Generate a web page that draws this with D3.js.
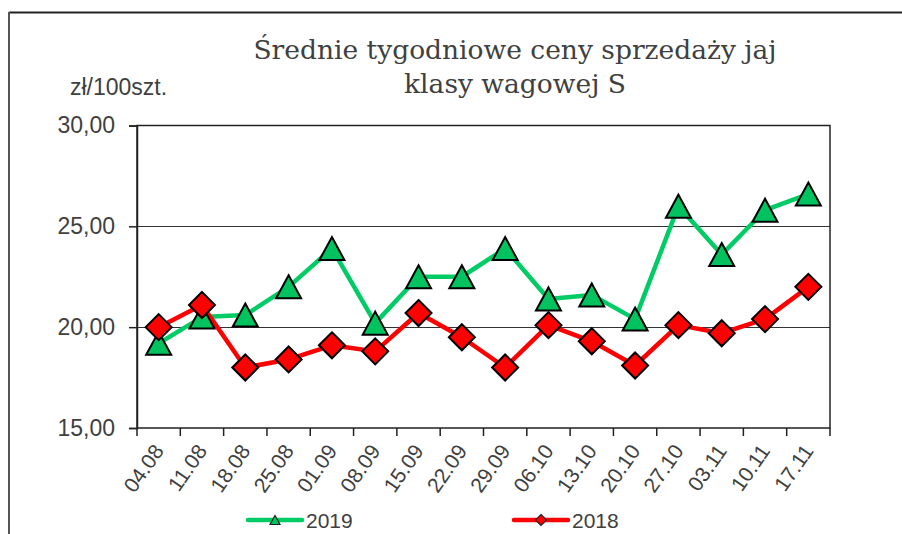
<!DOCTYPE html>
<meta charset="utf-8">
<style>
body { margin: 0; background: #fff; }
.title { font-family: "DejaVu Serif", serif; fill: #404040; }
.lab { font-family: "Liberation Sans", Arial, sans-serif; fill: #404040; }
.axis path, .axis line { stroke: #222; }
</style>
<body>
<div id="main"></div>
<script src="https://d3js.org/d3.v7.min.js"></script>
<script>
// weeks (x categories)
var weeks = ["04.08", "11.08", "18.08", "25.08", "01.09", "08.09", "15.09", "22.09",
	"29.09", "06.10", "13.10", "20.10", "27.10", "03.11", "10.11", "17.11"];
// prices zł/100szt.
var s2019 = [19.2, 20.5, 20.6, 22.0, 23.9, 20.2, 22.5, 22.5, 23.9, 21.4, 21.6, 20.4, 26.0, 23.6, 25.8, 26.6];
var s2018 = [20.0, 21.1, 18.0, 18.4, 19.1, 18.8, 20.7, 19.5, 18.0, 20.1, 19.3, 18.1, 20.1, 19.7, 20.4, 22.0];
var yTicks = [15, 20, 25, 30];
var titleLines = ["Średnie tygodniowe ceny sprzedaży jaj", "klasy wagowej S"];
var unitLabel = "zł/100szt.";
var legendNames = ["2019", "2018"];

var W = 902, H = 534;
var svg = d3.select("#main").append("svg").attr("width", W).attr("height", H);

// outer chart frame (left + top edges visible)
svg.append("line").attr("x1", 9).attr("y1", 12.5).attr("x2", W).attr("y2", 12.5)
	.attr("stroke", "#222").attr("stroke-width", 2);
svg.append("line").attr("x1", 9).attr("y1", 12).attr("x2", 9).attr("y2", H)
	.attr("stroke", "#555").attr("stroke-width", 2);

var plot = {left: 137, top: 125.5, right: 830, bottom: 428};

var x = d3.scaleBand().domain(weeks).range([plot.left, plot.right]);
var y = d3.scaleLinear().domain([15, 30]).range([plot.bottom, plot.top]);
var fmt = function(v) { return d3.format(".2f")(v).replace(".", ","); };

// gridlines
svg.append("g").selectAll("line").data(yTicks.slice(1, -1)).enter().append("line")
	.attr("x1", plot.left).attr("x2", plot.right)
	.attr("y1", function(d) { return Math.round(y(d)) + 0.5; })
	.attr("y2", function(d) { return Math.round(y(d)) + 0.5; })
	.attr("stroke", "#333").attr("stroke-width", 1.2);

// plot border
svg.append("rect").attr("x", plot.left).attr("y", plot.top)
	.attr("width", plot.right - plot.left).attr("height", plot.bottom - plot.top)
	.attr("fill", "none").attr("stroke", "#222").attr("stroke-width", 1.5);

// y axis
var yAxis = svg.append("g").attr("class", "axis")
	.attr("transform", "translate(" + plot.left + ",0)")
	.call(d3.axisLeft(y).tickValues(yTicks).tickFormat(fmt).tickSize(8).tickPadding(14));
yAxis.select(".domain").attr("stroke-width", 1.5);
yAxis.selectAll("line").attr("stroke-width", 1.5);
yAxis.selectAll("text").attr("class", "lab").style("font-size", "23px").attr("fill", "#404040")
	.attr("font-family", "Liberation Sans, Arial, sans-serif");

// x axis: ticks at category boundaries
var bounds = weeks.map(function(d) { return x(d); }).concat([plot.right]);
var xg = svg.append("g").attr("class", "axis");
xg.selectAll("line").data(bounds).enter().append("line")
	.attr("x1", function(d) { return d; }).attr("x2", function(d) { return d; })
	.attr("y1", plot.bottom).attr("y2", plot.bottom + 8)
	.attr("stroke", "#222").attr("stroke-width", 1.5);
xg.selectAll("text").data(weeks).enter().append("text")
	.attr("class", "lab")
	.attr("text-anchor", "end")
	.style("font-size", "21px")
	.attr("transform", function(d) {
		return "translate(" + (x(d) + x.bandwidth() / 2 + 6) + "," + (plot.bottom + 23) + ") rotate(-55)";
	})
	.text(function(d) { return d; });

// series
var cx = function(d, i) { return x(weeks[i]) + x.bandwidth() / 2; };
var line = d3.line().x(function(d, i) { return cx(d, i); }).y(function(d) { return y(d); });

var green = "#00C35F", greenLine = "#00CC66", red = "#FF0000";
var diamond = function(r) { return "M0," + (-r) + "L" + r + ",0L0," + r + "L" + (-r) + ",0Z"; };

svg.append("path").datum(s2019).attr("d", line).attr("fill", "none")
	.attr("stroke", greenLine).attr("stroke-width", 4.5).attr("stroke-linejoin", "round");
svg.append("path").datum(s2018).attr("d", line).attr("fill", "none")
	.attr("stroke", red).attr("stroke-width", 4.5).attr("stroke-linejoin", "round");

// triangle centred on value
function triPath(w, h) {
	return "M0," + (-h / 2) + "L" + (w / 2) + "," + (h / 2) + "L" + (-w / 2) + "," + (h / 2) + "Z";
}
svg.append("g").selectAll("path").data(s2019).enter().append("path")
	.attr("d", triPath(25, 23))
	.attr("transform", function(d, i) { return "translate(" + cx(d, i) + "," + y(d) + ")"; })
	.attr("fill", green).attr("stroke", "#000").attr("stroke-width", 2).attr("stroke-linejoin", "miter");
svg.append("g").selectAll("path").data(s2018).enter().append("path")
	.attr("d", diamond(13))
	.attr("transform", function(d, i) { return "translate(" + cx(d, i) + "," + y(d) + ")"; })
	.attr("fill", red).attr("stroke", "#000").attr("stroke-width", 2);

// title
var t = svg.append("text").attr("class", "title").attr("text-anchor", "middle").style("font-size", "26.5px");
titleLines.forEach(function(s, i) {
	t.append("tspan").attr("x", 515).attr("y", 59 + i * 34).text(s);
});

// unit label
svg.append("text").attr("class", "lab").attr("x", 70).attr("y", 95).style("font-size", "23px").text(unitLabel);

// legend
var leg = [
	{name: legendNames[0], x: 248, color: greenLine, fill: green, mark: triPath(10, 9)},
	{name: legendNames[1], x: 514, color: red, fill: red, mark: diamond(5.5)}
];
var lg = svg.append("g").selectAll("g").data(leg).enter().append("g")
	.attr("transform", function(d) { return "translate(" + d.x + ",520)"; });
lg.append("line").attr("x1", 0).attr("x2", 54).attr("stroke", function(d) { return d.color; })
	.attr("stroke-width", 4.5).attr("stroke-linecap", "round");
lg.append("path").attr("d", function(d) { return d.mark; }).attr("transform", "translate(27,0)")
	.attr("fill", function(d) { return d.fill; }).attr("stroke", "#222").attr("stroke-width", 1.2);
lg.append("text").attr("class", "lab").attr("x", 58).attr("y", 8).style("font-size", "21px")
	.text(function(d) { return d.name; });
</script>
</body>
